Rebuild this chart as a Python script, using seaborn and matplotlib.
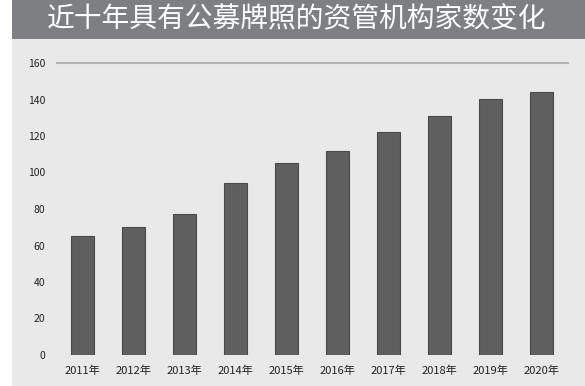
import matplotlib
matplotlib.use("Agg")
import matplotlib.pyplot as plt
import seaborn as sns
import pandas as pd
from matplotlib.patches import Rectangle

years = ["2011年", "2012年", "2013年", "2014年", "2015年", "2016年", "2017年", "2018年", "2019年", "2020年"]
counts = [65, 70, 77, 94, 105, 112, 122, 131, 140, 144]
yticks = [0, 20, 40, 60, 80, 100, 120, 140, 160]
title = "近十年具有公募牌照的资管机构家数变化"

sns.set_theme(style="white")
plt.rcParams['font.family'] = ['Noto Sans CJK SC', 'DejaVu Sans']

df = pd.DataFrame({"year": years, "count": counts})

fig = plt.figure(figsize=(5.85, 3.86), dpi=100)
fig.patch.set_facecolor("white")
# panel background and title band
fig.patches.append(Rectangle((12/585, 0), 1 - 12/585, 347/386, transform=fig.transFigure,
                             facecolor="#e9e9e9", edgecolor="none", zorder=-10))
fig.patches.append(Rectangle((12/585, 347/386), 1 - 12/585, 39/386, transform=fig.transFigure,
                             facecolor="#7e7f83", edgecolor="none", zorder=-10))
fig.text(297/585, 1 - 19/386, title, color="white", fontsize=20,
         ha="center", va="center", zorder=5)

ax = fig.add_axes([56.5/585, 31/386, 511/585, 292/386])
ax.set_zorder(2)
ax.set_facecolor("none")
sns.barplot(data=df, x="year", y="count", ax=ax, color="#5f5f5f",
            width=0.45, edgecolor="#4a4a4a", linewidth=0.8, saturation=1)
ax.set_xlim(-0.5, 9.5)
ax.set_ylim(0, 160)
ax.set_yticks(yticks)
ax.set_yticklabels([str(v) for v in yticks])
ax.set_xlabel("")
ax.set_ylabel("")
for s in ["left", "right", "bottom"]:
    ax.spines[s].set_visible(False)
ax.spines["top"].set_visible(True)
ax.spines["top"].set_color("#b5b5b5")
ax.spines["top"].set_linewidth(1.5)
ax.tick_params(axis="y", length=0, pad=8, labelsize=7.5, labelcolor="#222222")
ax.tick_params(axis="x", length=0, pad=8, labelsize=8, labelcolor="#222222")

fig.savefig("out.png", dpi=100)
